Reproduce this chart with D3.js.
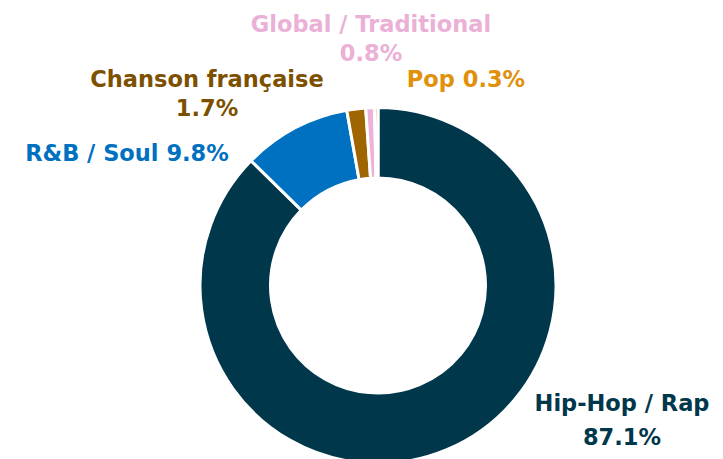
<!DOCTYPE html>
<html>
<head>
<meta charset="utf-8">
<script src="https://cdn.jsdelivr.net/npm/d3@7"></script>
<style>
  html, body { margin: 0; padding: 0; background: #ffffff; }
  svg { display: block; }
  .label { font-family: "DejaVu Sans", sans-serif; font-weight: bold; font-size: 22.5px; }
</style>
</head>
<body>
<svg id="chart" width="723" height="459"></svg>
<script>
// Genre share data
var genres = ["Hip-Hop / Rap", "R&B / Soul", "Chanson française", "Global / Traditional", "Pop"];
var shares = [87.1, 9.8, 1.7, 0.8, 0.3];
var sliceColors = ["#00374B", "#0070C0", "#9E6500", "#EDB2DA", "#E2900C"];
var textColors = ["#00374B", "#0070C0", "#7D5000", "#EBB0D6", "#E0900A"];

// Label placement (x centre, first baseline, one or two lines)
var labelLayout = {
    "Hip-Hop / Rap": { x: 622, y: 411, split: true, gap: 34 },
    "R&B / Soul": { x: 127, y: 161, split: false },
    "Chanson française": { x: 207, y: 87, split: true, gap: 29 },
    "Global / Traditional": { x: 371, y: 32, split: true, gap: 29 },
    "Pop": { x: 466, y: 87, split: false }
};

var svg = d3.select("#chart");
var cx = 378, cy = 285.5;
var outerR = 178, innerR = 107.5;

var data = genres.map(function (g, i) {
    return { genre: g, value: shares[i], color: sliceColors[i], text: textColors[i] };
});

var pie = d3.pie()
    .sort(null)
    .value(function (d) { return d.value; });

var arc = d3.arc()
    .innerRadius(innerR)
    .outerRadius(outerR);

var g = svg.append("g")
    .attr("transform", "translate(" + cx + "," + cy + ")");

g.selectAll("path")
    .data(pie(data))
    .enter()
    .append("path")
    .attr("d", arc)
    .style("fill", function (d) { return d.data.color; })
    .style("stroke", "#ffffff")
    .style("stroke-width", 3);

// Labels
var fmt = function (v) { return v.toFixed(1) + "%"; };
data.forEach(function (d) {
    var pos = labelLayout[d.genre];
    var t = svg.append("text")
        .attr("class", "label")
        .attr("text-anchor", "middle")
        .attr("x", pos.x)
        .attr("y", pos.y)
        .style("fill", d.text);
    if (pos.split) {
        t.append("tspan").attr("x", pos.x).text(d.genre);
        t.append("tspan").attr("x", pos.x).attr("dy", pos.gap).text(fmt(d.value));
    } else {
        t.text(d.genre + " " + fmt(d.value));
    }
});
</script>
</body>
</html>
